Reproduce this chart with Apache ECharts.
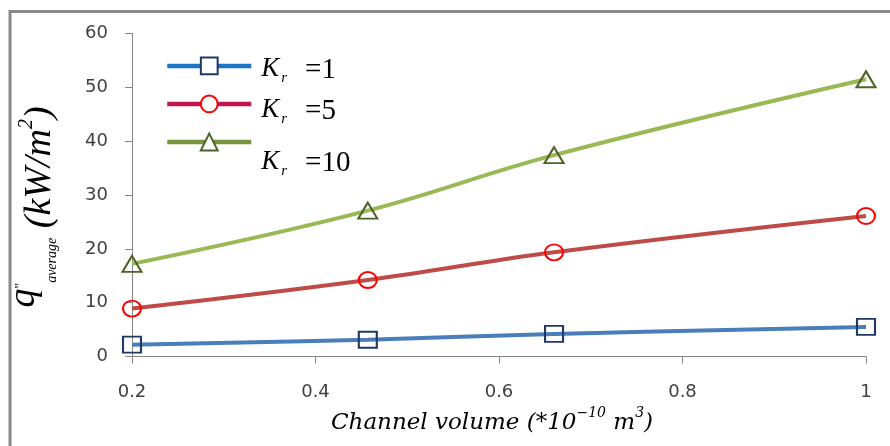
<!DOCTYPE html>
<html>
<head>
<meta charset="utf-8">
<script src="https://cdn.jsdelivr.net/npm/echarts@6/dist/echarts.min.js"></script>
<style>
  html, body { margin: 0; padding: 0; background: #ffffff; }
  #chart { width: 890px; height: 446px; }
</style>
</head>
<body>
<div id="chart"></div>
<script>
// Channel volume (x 1e-10 m^3)
const volumes = [0.2, 0.457, 0.66, 1.0];
// Average heat flux q'' (kW/m^2) for each resistance ratio Kr
const krValues = [1, 5, 10];
const fluxKr1 = [2.2, 3.1, 4.2, 5.5];
const fluxKr5 = [8.9, 14.2, 19.35, 26.1];
const fluxKr10 = [17.2, 27.1, 37.4, 51.5];
const xTicks = [0.2, 0.4, 0.6, 0.8, 1];
const yTicks = [0, 10, 20, 30, 40, 50, 60];

const seriesValues = [fluxKr1, fluxKr5, fluxKr10];
const lineColors = ['#4A7EBB', '#BE4B48', '#98B954'];
const legendLineColors = ['#1C74C4', '#BE1650', '#77933C'];
const markerColors = ['#1F3864', '#FF0000', '#4F6228'];
const markerShapes = ['rect', 'circle', 'triangle'];
const markerSizes = [[18, 16], [18, 16], [19, 16]];
const names = krValues.map(k => 'Kr = ' + k);

const serif = 'Liberation Serif';

const series = seriesValues.map((vals, i) => ({
  name: names[i],
  type: 'line',
  data: volumes.map((v, j) => [v, vals[j]]),
  smooth: 0.4,
  symbol: markerShapes[i],
  symbolSize: markerSizes[i],
  showSymbol: true,
  lineStyle: { color: lineColors[i], width: 4 },
  itemStyle: { color: 'transparent', borderColor: markerColors[i], borderWidth: 2 },
  z: 3 - i
}));

// one legend block per series, stacked down the upper-left corner
const legendTops = [50.4, 91.4, 132.6];
const legendTextPad = [9, 15, 43];
const legends = names.map((n, i) => ({
  left: 165,
  top: legendTops[i],
  padding: 0,
  orient: 'vertical',
  itemWidth: 84,
  itemHeight: 21,
  itemGap: 0,
  data: [{
    name: n,
    itemStyle: { color: '#ffffff', borderColor: markerColors[i], borderWidth: 2 },
    lineStyle: { color: legendLineColors[i], width: 4.5 }
  }],
  formatter: () => '{k|K}{r|r}{e|=' + krValues[i] + '}',
  textStyle: {
    padding: [legendTextPad[i], 0, 0, 5],
    rich: {
      k: { fontFamily: serif, fontStyle: 'italic', fontSize: 27, color: '#000', lineHeight: 30, verticalAlign: 'top' },
      r: { fontFamily: serif, fontStyle: 'italic', fontSize: 15, color: '#000', lineHeight: 15, padding: [20, 18, 0, 2], verticalAlign: 'bottom' },
      e: { fontFamily: serif, fontSize: 29, color: '#000', lineHeight: 30, verticalAlign: 'top' }
    }
  }
}));

const tickLabelStyle = { fontFamily: 'DejaVu Sans', fontSize: 18, color: '#404040' };

const option = {
  animation: false,
  backgroundColor: '#ffffff',
  grid: { left: 132, right: 24, top: 33.5, bottom: 89.5, outerBoundsMode: 'none', containLabel: false },
  legend: legends,
  xAxis: {
    type: 'value',
    min: xTicks[0],
    max: xTicks[xTicks.length - 1],
    interval: 0.2,
    splitLine: { show: false },
    axisLine: { lineStyle: { color: '#868686', width: 1 } },
    axisTick: { show: true, length: 7, lineStyle: { color: '#868686' } },
    axisLabel: Object.assign({ margin: 27, formatter: v => String(Math.round(v * 10) / 10) }, tickLabelStyle),
    name: '{t|Channel volume (*10}{s|−10}{t| m}{s|3}{t|)}',
    nameLocation: 'middle',
    nameGap: 45,
    nameTextStyle: {
      padding: [0, 14, 0, 0],
      rich: {
        t: { fontFamily: 'DejaVu Serif', fontStyle: 'italic', fontSize: 23, color: '#000', lineHeight: 28, verticalAlign: 'bottom' },
        s: { fontFamily: 'DejaVu Serif', fontStyle: 'italic', fontSize: 14, color: '#000', lineHeight: 28, verticalAlign: 'top' }
      }
    }
  },
  yAxis: {
    type: 'value',
    min: yTicks[0],
    max: yTicks[yTicks.length - 1],
    interval: 10,
    splitLine: { show: false },
    axisLine: { show: true, lineStyle: { color: '#868686', width: 1 } },
    axisTick: { show: true, length: 7, lineStyle: { color: '#868686' } },
    axisLabel: Object.assign({ margin: 24 }, tickLabelStyle),
    name: '{q|q}{dq|"}{a|average}{u| (kW/m}{p|2}{u|)}',
    nameLocation: 'middle',
    nameRotate: 90,
    nameGap: 73,
    nameTextStyle: {
      padding: [0, 24, 0, 0],
      rich: {
        q: { fontFamily: serif, fontStyle: 'italic', fontSize: 38, color: '#000', lineHeight: 38, verticalAlign: 'top' },
        dq: { fontFamily: serif, fontSize: 14, color: '#000', lineHeight: 14, padding: [9, 0, 0, 0], verticalAlign: 'top' },
        a: { fontFamily: serif, fontStyle: 'italic', fontSize: 14, color: '#000', lineHeight: 20, verticalAlign: 'bottom' },
        u: { fontFamily: serif, fontStyle: 'italic', fontSize: 38, color: '#000', lineHeight: 54, verticalAlign: 'bottom' },
        p: { fontFamily: serif, fontStyle: 'italic', fontSize: 20, color: '#000', lineHeight: 20, padding: [12, 0, 0, 0], verticalAlign: 'top' }
      }
    }
  },
  graphic: [{
    type: 'rect',
    silent: true,
    shape: { x: 10, y: 11.5, width: 900, height: 460 },
    style: { fill: 'none', stroke: '#898989', lineWidth: 3 },
    z: -1
  }],
  series: series
};

const chart = echarts.init(document.getElementById('chart'), null, { renderer: 'canvas' });
chart.setOption(option);
</script>
</body>
</html>
